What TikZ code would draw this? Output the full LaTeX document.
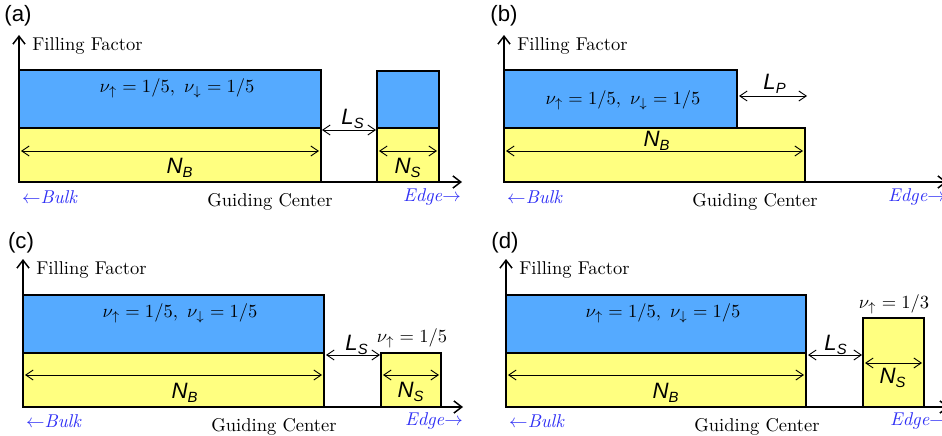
\documentclass[tikz,border=0pt]{standalone}
\usepackage{fontspec}
\setsansfont{Liberation Sans}
\usepackage{amsmath}
\usepackage{tikz}
\usetikzlibrary{arrows.meta}
\definecolor{blau}{HTML}{55AAFF}
\definecolor{gelb}{HTML}{FFFF80}
\definecolor{tinte}{HTML}{3030F5}
\tikzset{
  ax/.style={-{Straight Barb[length=1.5mm,width=2.3mm]},line width=0.8pt},
  dim/.style={{Straight Barb[length=1.4mm,width=1.9mm]}-{Straight Barb[length=1.4mm,width=1.9mm]},line width=0.5pt},
  bandb/.style={fill=blau,draw=black,line width=0.8pt},
  bandy/.style={fill=gelb,draw=black,line width=0.8pt},
  lab/.style={font=\fontsize{12}{14}\sffamily\itshape,inner sep=1pt},
  tag/.style={font=\fontsize{12}{14}\sffamily,inner sep=1pt},
  rand/.style={tinte,font=\itshape,inner sep=1pt},
  txt/.style={inner sep=0pt},
}
\newcommand{\idx}[2]{#1\textsubscript{#2}}
\newcommand{\nufill}{$\nu_\uparrow = 1/5,\ \nu_\downarrow = 1/5$}

\begin{document}
\begin{tikzpicture}[x=0.54pt,y=0.54pt]
  \useasboundingbox (0,0) rectangle (942,435);
  % --- (a) ---
  \begin{scope}[shift={(19,253)}]
    \draw[bandy] (0,0) rectangle (302,54);
    \draw[bandb] (0,54) rectangle (302,112);
    \draw[bandy] (358,0) rectangle (420,54);
    \draw[bandb] (358,54) rectangle (420,111);
    \draw[ax] (0,0)--(0,147);
    \draw[ax] (0,0)--(443,0);
    \draw[dim] (2,31)--(300,31);
    \draw[dim] (303,52)--(357,52);
    \draw[dim] (360,31)--(418,31);
    \node[tag] (tga) at (-1,166) {(a)};
    \node[txt,anchor=west] (ffa) at (13,136) {Filling Factor};
    \node[txt] (nua) at (158,94) {\nufill};
    \node[lab] (nba) at (161,14) {\idx{N}{B}};
    \node[lab] (lsa) at (334,63) {\idx{L}{S}};
    \node[lab] (nsa) at (389,14) {\idx{N}{S}};
    \node[rand,anchor=west] (bka) at (1,-15) {$\leftarrow$Bulk};
    \node[txt] (gca) at (251,-20) {Guiding Center};
    \node[rand,anchor=east] (eda) at (444,-15) {Edge$\rightarrow$};
  \end{scope}
  % --- (b) ---
  \begin{scope}[shift={(504,253)}]
    \draw[bandy] (0,0) rectangle (301,54);
    \draw[bandb] (0,54) rectangle (233,112);
    \draw[ax] (0,0)--(0,147);
    \draw[ax] (0,0)--(443,0);
    \draw[dim] (2,31)--(299,31);
    \draw[dim] (235,86)--(303,86);
    \node[tag] (tgb) at (0,166) {(b)};
    \node[txt,anchor=west] (ffb) at (13,136) {Filling Factor};
    \node[txt] (nub) at (119,82) {\nufill};
    \node[lab] (nbb) at (153,41) {\idx{N}{B}};
    \node[lab] (lpb) at (271,98) {\idx{L}{P}};
    \node[rand,anchor=west] (bkb) at (1,-15) {$\leftarrow$Bulk};
    \node[txt] (gcb) at (251,-20) {Guiding Center};
    \node[rand,anchor=east] (edb) at (444,-15) {Edge$\rightarrow$};
  \end{scope}
  % --- (c) ---
  \begin{scope}[shift={(23,28)}]
    \draw[bandy] (0,0) rectangle (301,54);
    \draw[bandb] (0,54) rectangle (301,112);
    \draw[bandy] (358,0) rectangle (418,54);
    \draw[ax] (0,0)--(0,148);
    \draw[ax] (0,0)--(440,0);
    \draw[dim] (2,32)--(299,32);
    \draw[dim] (303,52)--(357,52);
    \draw[dim] (360,32)--(416,32);
    \node[tag] (tgc) at (-2,164) {(c)};
    \node[txt,anchor=west] (ffc) at (13,137) {Filling Factor};
    \node[txt] (nuc) at (157,94) {\nufill};
    \node[lab] (nbc) at (162,14) {\idx{N}{B}};
    \node[lab] (lsc) at (334,62) {\idx{L}{S}};
    \node[txt] (nsuc) at (389,69) {$\nu_\uparrow = 1/5$};
    \node[lab] (nsc) at (388,15) {\idx{N}{S}};
    \node[rand,anchor=west] (bkc) at (1,-14) {$\leftarrow$Bulk};
    \node[txt] (gcc) at (251,-20) {Guiding Center};
    \node[rand,anchor=east] (edc) at (442,-14) {Edge$\rightarrow$};
  \end{scope}
  % --- (d) ---
  \begin{scope}[shift={(506,28)}]
    \draw[bandy] (0,0) rectangle (300,54);
    \draw[bandb] (0,54) rectangle (300,112);
    \draw[bandy] (357,0) rectangle (418,89);
    \draw[ax] (0,0)--(0,148);
    \draw[ax] (0,0)--(443,0);
    \draw[dim] (2,32)--(298,32);
    \draw[dim] (302,52)--(356,52);
    \draw[dim] (359,44)--(416,44);
    \node[tag] (tgd) at (-1,164) {(d)};
    \node[txt,anchor=west] (ffd) at (13,137) {Filling Factor};
    \node[txt] (nud) at (157,94) {\nufill};
    \node[lab] (nbd) at (160,14) {\idx{N}{B}};
    \node[lab] (lsd) at (330,62) {\idx{L}{S}};
    \node[txt] (nsud) at (388,103) {$\nu_\uparrow = 1/3$};
    \node[lab] (nsd) at (387,29) {\idx{N}{S}};
    \node[rand,anchor=west] (bkd) at (1,-14) {$\leftarrow$Bulk};
    \node[txt] (gcd) at (251,-20) {Guiding Center};
    \node[rand,anchor=east] (edd) at (444,-14) {Edge$\rightarrow$};
  \end{scope}
\end{tikzpicture}
\end{document}
